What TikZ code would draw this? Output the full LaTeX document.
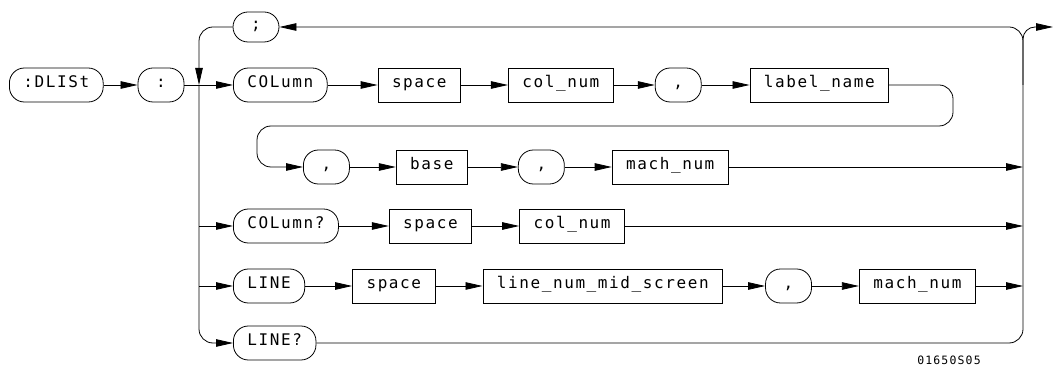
\documentclass[tikz,border=0pt]{standalone}
\usepackage{fontspec}
\newfontfamily\hpfont[LetterSpace=10]{DejaVu Sans Mono}
\usetikzlibrary{positioning, arrows.meta}

\begin{document}
\begin{tikzpicture}[
    x=1pt, y=-1pt,
    >={Triangle[length=17pt,width=7.5pt]},
    every node/.style={font=\hpfont\fontsize{16}{18}\selectfont, text height=1.5ex, text depth=.25ex},
    pill/.style={draw, line width=0.8pt, rectangle, rounded corners=15pt, minimum width=46pt, minimum height=34pt, inner xsep=14pt},
    box/.style={draw, line width=0.8pt, rectangle, minimum height=34pt, inner xsep=14pt},
    arrow/.style={->, line width=0.8pt},
    plain/.style={line width=0.8pt}
]
\useasboundingbox (0,0) rectangle (1055,371);

\node[pill, anchor=west] (dlist) at (9,85) {:DLISt};
\node[pill, right=34pt of dlist] (colon) {:};
\coordinate (J) at (199,85);
\node[pill, minimum height=30pt] (semi) at (256,27) {;};

% COLumn row
\node[pill, anchor=west] (col) at (233,85) {COLumn};
\node[box, right=50pt of col] (sp1) {space};
\node[box, right=47pt of sp1] (cn1) {col\_num};
\node[pill, right=41pt of cn1] (cm1) {,};
\node[box, right=48pt of cm1] (lab) {label\_name};

% continuation row
\node[pill, anchor=west] (cm2) at (303,167) {,};
\node[box, right=46pt of cm2] (base) {base};
\node[pill, right=50pt of base] (cm3) {,};
\node[box, right=47pt of cm3] (mn1) {mach\_num};

% COLumn? row
\node[pill, anchor=west] (colq) at (233,226) {COLumn?};
\node[box, right=50pt of colq] (sp2) {space};
\node[box, right=47pt of sp2] (cn2) {col\_num};

% LINE row
\node[pill, anchor=west] (ln) at (233,286) {LINE};
\node[box, right=47pt of ln] (sp3) {space};
\node[box, right=47pt of sp3] (mid) {line\_num\_mid\_screen};
\node[pill, right=42pt of mid] (cm4) {,};
\node[box, right=47pt of cm4] (mn2) {mach\_num};

% LINE? row
\node[pill, anchor=west] (lineq) at (233,343) {LINE?};

\node[font=\hpfont\fontsize{11.5}{13}\selectfont] (figid) at (949,362) {01650S05};

\coordinate (busT) at (1023,27);
\coordinate (exit) at (1053,27);
\coordinate (loopR) at (953,126);
\coordinate (loopL) at (257,126);

\draw[arrow] (dlist) -- (colon);
\draw[plain] (colon) -- (J);
\draw[arrow] (J) -- (col);
\draw[arrow, rounded corners=14pt] (semi) -| (J);
\draw[arrow, rounded corners=14pt] (J) |- (lineq);
\draw[arrow] (J |- colq) -- (colq);
\draw[arrow] (J |- ln) -- (ln);

\draw[arrow] (col) -- (sp1);
\draw[arrow] (sp1) -- (cn1);
\draw[arrow] (cn1) -- (cm1);
\draw[arrow] (cm1) -- (lab);
\draw[arrow, rounded corners=14pt] (lab) -| (loopR) -- (loopL) |- (cm2);

\draw[arrow] (cm2) -- (base);
\draw[arrow] (base) -- (cm3);
\draw[arrow] (cm3) -- (mn1);
\draw[arrow] (mn1) -- (busT |- mn1);

\draw[arrow] (colq) -- (sp2);
\draw[arrow] (sp2) -- (cn2);
\draw[arrow] (cn2) -- (busT |- cn2);

\draw[arrow] (ln) -- (sp3);
\draw[arrow] (sp3) -- (mid);
\draw[arrow] (mid) -- (cm4);
\draw[arrow] (cm4) -- (mn2);
\draw[arrow] (mn2) -- (busT |- mn2);

\draw[arrow, rounded corners=14pt] (lineq) -| (busT) -- (semi);
\draw[arrow, rounded corners=12pt] (busT |- col) |- (exit);
\end{tikzpicture}
\end{document}
